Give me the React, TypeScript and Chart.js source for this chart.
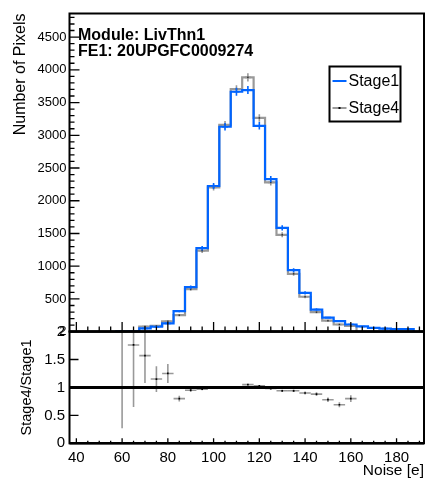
import React, { useEffect, useRef } from "react";
import { Chart, registerables } from "chart.js";

Chart.register(...registerables);

// ---------------- data ----------------
const binWidth = 5;

const stage1BinCenters = [60, 65, 70, 75, 80, 85, 90, 95, 100, 105, 110, 115, 120, 125, 130, 135, 140, 145, 150, 155, 160, 165, 170, 175, 180, 185];
const stage1Counts = [2, 5, 50, 77, 127, 315, 680, 1275, 2225, 3130, 3665, 3690, 3145, 2330, 1585, 940, 593, 338, 215, 160, 110, 80, 58, 47, 40, 38];

const stage4BinCenters = [60, 65, 70, 75, 80, 85, 90, 95, 100, 105, 110, 115, 120, 125, 130, 135, 140, 145, 150, 155, 160];
const stage4Counts = [4, 9, 79, 89, 159, 252, 650, 1237, 2205, 3160, 3705, 3885, 3265, 2280, 1480, 884, 534, 298, 168, 110, 88];

const ratioBinCenters = [60, 65, 70, 75, 80, 85, 90, 95, 100, 105, 110, 115, 120, 125, 130, 135, 140, 145, 150, 155, 160];
const ratioValues = [2.0, 1.76, 1.57, 1.15, 1.25, 0.8, 0.95, 0.97, 0.99, 1.01, 1.01, 1.05, 1.03, 0.98, 0.94, 0.94, 0.9, 0.88, 0.78, 0.69, 0.8];
const ratioErrors = [1.73, 1.11, 0.49, 0.23, 0.17, 0.05, 0.03, 0.02, 0.015, 0.012, 0.012, 0.012, 0.012, 0.015, 0.018, 0.022, 0.027, 0.035, 0.04, 0.045, 0.06];

const xTickValues = [40, 60, 80, 100, 120, 140, 160, 180];
const yTopTickValues = [2, 500, 1000, 1500, 2000, 2500, 3000, 3500, 4000, 4500];
const yRatioTickValues = [0, 0.5, 1, 1.5, 2];

const xRange = [37, 192];
const yTopRange = [2, 4860];
const yRatioRange = [0, 2];

const seriesLabels = ["Stage1", "Stage4"];
const annotationLines = ["Module: LivThn1", "FE1: 20UPGFC0009274"];
const xTitle = "Noise [e]";
const yTopTitle = "Number of Pixels";
const yRatioTitle = "Stage4/Stage1";

// ---------------- styles ----------------
const STAGE1_COLOR = "#0064ff";
const STAGE4_COLOR = "#999999";
const FONT_FAMILY = "'Liberation Sans', Arial, Helvetica, sans-serif";

function histPoints(centers: number[], counts: number[]) {
  const pts: { x: number; y: number }[] = [];
  pts.push({ x: centers[0] - binWidth / 2, y: 0 });
  centers.forEach((c, i) => pts.push({ x: c - binWidth / 2, y: counts[i] }));
  pts.push({ x: centers[centers.length - 1] + binWidth / 2, y: 0 });
  return pts;
}

const rootStylePlugin = {
  id: "rootStyle",
  beforeDatasetsDraw(chart: any) {
    const { ctx, chartArea, scales } = chart;
    const x = scales.x;
    const y2 = scales.y2;
    ctx.save();
    ctx.beginPath();
    ctx.rect(chartArea.left, y2.top, chartArea.right - chartArea.left, y2.bottom - y2.top);
    ctx.clip();
    // error bars of the ratio
    ctx.strokeStyle = STAGE4_COLOR;
    ctx.lineWidth = 1.6;
    ratioBinCenters.forEach((c, i) => {
      const px = x.getPixelForValue(c);
      const pl = x.getPixelForValue(c - binWidth / 2);
      const pr = x.getPixelForValue(c + binWidth / 2);
      const pv = y2.getPixelForValue(ratioValues[i]);
      const pt = y2.getPixelForValue(ratioValues[i] + ratioErrors[i]);
      const pb = y2.getPixelForValue(ratioValues[i] - ratioErrors[i]);
      ctx.beginPath();
      ctx.moveTo(pl, pv);
      ctx.lineTo(pr, pv);
      ctx.moveTo(px, pt);
      ctx.lineTo(px, pb);
      ctx.stroke();
    });
    // reference line at 1
    const p1 = y2.getPixelForValue(1);
    ctx.strokeStyle = "#000";
    ctx.lineWidth = 3;
    ctx.beginPath();
    ctx.moveTo(chartArea.left, p1);
    ctx.lineTo(chartArea.right, p1);
    ctx.stroke();
    ctx.restore();
  },
  afterDatasetsDraw(chart: any) {
    const { ctx, chartArea, scales } = chart;
    const x = scales.x;
    const y = scales.y;
    const y2 = scales.y2;
    const left = chartArea.left;
    const right = chartArea.right;

    // histogram error bars (top panel)
    ctx.save();
    ctx.beginPath();
    ctx.rect(left, y.top, right - left, y.bottom - y.top);
    ctx.clip();
    const drawErr = (centers: number[], counts: number[], color: string, dot: boolean) => {
      ctx.strokeStyle = color;
      ctx.lineWidth = 1.6;
      centers.forEach((c, i) => {
        const v = counts[i];
        const e = Math.sqrt(v);
        const px = x.getPixelForValue(c);
        ctx.beginPath();
        ctx.moveTo(px, y.getPixelForValue(v + e));
        ctx.lineTo(px, y.getPixelForValue(Math.max(v - e, 0)));
        ctx.moveTo(px - 3, y.getPixelForValue(v));
        ctx.lineTo(px + 3, y.getPixelForValue(v));
        ctx.stroke();
        if (dot) {
          ctx.fillStyle = "#333";
          ctx.fillRect(px - 0.75, y.getPixelForValue(v) - 0.75, 1.5, 1.5);
        }
      });
    };
    drawErr(stage4BinCenters, stage4Counts, STAGE4_COLOR, true);
    drawErr(stage1BinCenters, stage1Counts, STAGE1_COLOR, false);
    ctx.restore();

    ctx.save();
    ctx.strokeStyle = "#000";
    // ticks: top panel y (inward)
    ctx.lineWidth = 1.3;
    const [yMin, yMax] = yTopRange;
    ctx.beginPath();
    for (let v = 100; v < yMax; v += 100) {
      if (v < yMin) continue;
      const py = y.getPixelForValue(v);
      const major = v % 500 === 0;
      ctx.moveTo(left, py);
      ctx.lineTo(left + (major ? 10 : 5), py);
    }
    // ticks: top panel x (upward from bottom)
    for (let v = 40; v <= xRange[1]; v += 5) {
      const px = x.getPixelForValue(v);
      const major = xTickValues.includes(v);
      ctx.moveTo(px, y.bottom);
      ctx.lineTo(px, y.bottom - (major ? 9.5 : 5));
    }
    // ticks: ratio panel y
    yRatioTickValues.forEach((v) => {
      const py = y2.getPixelForValue(v);
      ctx.moveTo(left, py);
      ctx.lineTo(left + 9, py);
    });
    // ticks: ratio panel x
    for (let v = 40; v <= xRange[1]; v += 5) {
      const px = x.getPixelForValue(v);
      const major = xTickValues.includes(v);
      ctx.moveTo(px, y2.bottom);
      ctx.lineTo(px, y2.bottom - (major ? 5 : 2.5));
    }
    ctx.stroke();

    // frames
    ctx.lineWidth = 2;
    ctx.strokeRect(left, y.top, right - left, y.bottom - y.top);
    ctx.strokeRect(left, y2.top, right - left, y2.bottom - y2.top);
    ctx.lineWidth = 2.5;
    ctx.beginPath();
    ctx.moveTo(left, y2.bottom);
    ctx.lineTo(right, y2.bottom);
    ctx.moveTo(left, y.bottom);
    ctx.lineTo(right, y.bottom);
    ctx.stroke();
    ctx.restore();
  },
  afterDraw(chart: any) {
    const { ctx, chartArea } = chart;
    ctx.save();
    // annotation text
    ctx.fillStyle = "#000";
    ctx.font = `bold 16px ${FONT_FAMILY}`;
    ctx.textAlign = "left";
    ctx.textBaseline = "alphabetic";
    ctx.fillText(annotationLines[0], chartArea.left + 8.5, chartArea.top + 26);
    ctx.fillText(annotationLines[1], chartArea.left + 8.5, chartArea.top + 42.5);

    // legend
    const lx = chartArea.right - 94.5;
    const ly = chartArea.top + 53;
    const lw = 71;
    const lh = 55;
    ctx.fillStyle = "#fff";
    ctx.fillRect(lx, ly, lw, lh);
    ctx.strokeStyle = "#000";
    ctx.lineWidth = 2;
    ctx.strokeRect(lx, ly, lw, lh);
    const rows = [ly + 14.5, ly + 41.5];
    const colors = [STAGE1_COLOR, STAGE4_COLOR];
    ctx.font = `16px ${FONT_FAMILY}`;
    ctx.textBaseline = "middle";
    rows.forEach((ry, i) => {
      ctx.strokeStyle = colors[i];
      ctx.lineWidth = 2;
      ctx.beginPath();
      ctx.moveTo(lx + 3, ry);
      ctx.lineTo(lx + 17, ry);
      ctx.stroke();
      if (i === 1) {
        ctx.fillStyle = "#000";
        ctx.fillRect(lx + 9, ry - 1, 2, 2);
      }
      ctx.fillStyle = "#000";
      ctx.fillText(seriesLabels[i], lx + 19, ry + 1);
    });
    ctx.restore();
  },
};

export default function App() {
  const canvasRef = useRef<HTMLCanvasElement | null>(null);

  useEffect(() => {
    if (!canvasRef.current) return;
    const tickFont = (size: number) => ({ family: FONT_FAMILY, size });
    const chart = new Chart(canvasRef.current, {
      type: "line",
      data: {
        datasets: [
          {
            label: seriesLabels[0],
            data: histPoints(stage1BinCenters, stage1Counts),
            borderColor: STAGE1_COLOR,
            borderWidth: 2.2,
            stepped: true,
            pointRadius: 0,
            fill: false,
            xAxisID: "x",
            yAxisID: "y",
          },
          {
            label: seriesLabels[1],
            data: histPoints(stage4BinCenters, stage4Counts),
            borderColor: STAGE4_COLOR,
            borderWidth: 2.2,
            stepped: true,
            pointRadius: 0,
            fill: false,
            xAxisID: "x",
            yAxisID: "y",
          },
          {
            type: "scatter",
            label: "ratio",
            data: ratioBinCenters.map((c, i) => ({ x: c, y: ratioValues[i] })),
            pointStyle: "rect",
            pointRadius: 1.2,
            backgroundColor: "#000",
            borderColor: "#000",
            borderWidth: 0,
            showLine: false,
            xAxisID: "x",
            yAxisID: "y2",
          } as any,
        ],
      },
      options: {
        animation: false,
        responsive: false,
        devicePixelRatio: 1,
        events: [],
        layout: { padding: { top: 7.5, right: 4, left: 0, bottom: 0 } },
        plugins: { legend: { display: false }, tooltip: { enabled: false } },
        scales: {
          x: {
            type: "linear",
            position: "bottom",
            min: xRange[0],
            max: xRange[1],
            afterBuildTicks: (s: any) => {
              s.ticks = xTickValues.map((v) => ({ value: v }));
            },
            afterFit: (s: any) => {
              s.height = 37.7;
            },
            grid: { display: false, drawTicks: false, tickLength: 0 },
            border: { display: false },
            ticks: {
              font: tickFont(15),
              color: "#000",
              padding: 6,
              maxRotation: 0,
              autoSkip: false,
              callback: (v: any) => String(v),
            },
            title: {
              display: true,
              text: xTitle,
              align: "end",
              color: "#000",
              font: tickFont(15.5),
              padding: { top: 0, bottom: 1 },
            },
          },
          y: {
            type: "linear",
            position: "left",
            stack: "pads",
            stackWeight: 322.5,
            weight: 1,
            min: yTopRange[0],
            max: yTopRange[1],
            afterBuildTicks: (s: any) => {
              s.ticks = yTopTickValues.map((v) => ({ value: v }));
            },
            afterFit: (s: any) => {
              s.width = 69.5;
            },
            grid: { display: false, drawTicks: false, tickLength: 0 },
            border: { display: false },
            ticks: {
              font: tickFont(13),
              color: "#000",
              padding: 3,
              autoSkip: false,
              callback: (v: any) => String(v),
            },
            title: {
              display: true,
              text: yTopTitle,
              align: "end",
              color: "#000",
              font: tickFont(16),
              padding: { top: 10.5, bottom: 0 },
            },
          },
          y2: {
            type: "linear",
            position: "left",
            stack: "pads",
            stackWeight: 113.3,
            weight: 0,
            min: yRatioRange[0],
            max: yRatioRange[1],
            afterBuildTicks: (s: any) => {
              s.ticks = yRatioTickValues.map((v) => ({ value: v }));
            },
            afterFit: (s: any) => {
              s.width = 69.5;
            },
            grid: { display: false, drawTicks: false, tickLength: 0 },
            border: { display: false },
            ticks: {
              font: tickFont(15),
              color: "#000",
              padding: 4.5,
              autoSkip: false,
              callback: (v: any) => String(v),
            },
            title: {
              display: true,
              text: yRatioTitle,
              align: "center",
              color: "#000",
              font: tickFont(14.5),
              padding: { top: 17.8, bottom: 0 },
            },
          },
        } as any,
      },
      plugins: [rootStylePlugin as any],
    });
    return () => chart.destroy();
  }, []);

  return (
    <div style={{ position: "fixed", left: 0, top: 0, width: 428, height: 481, background: "#fff" }}>
      <canvas ref={canvasRef} width={428} height={481} style={{ display: "block" }} />
    </div>
  );
}
